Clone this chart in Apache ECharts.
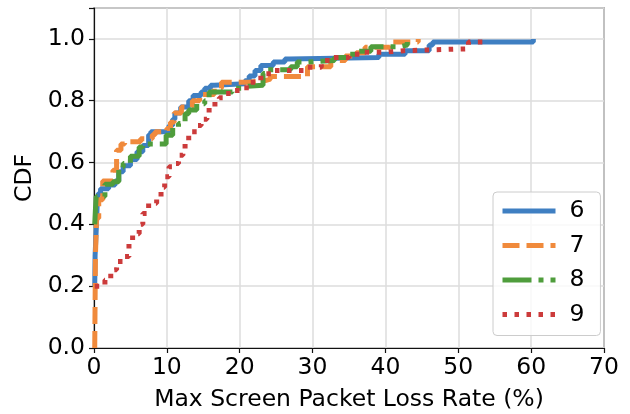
<!DOCTYPE html>
<html>
<head>
<meta charset="utf-8">
<script src="https://cdn.jsdelivr.net/npm/echarts@6/dist/echarts.min.js"></script>
<style>
  html, body { margin: 0; padding: 0; background: #fff; }
  #chart { width: 630px; height: 414px; }
</style>
</head>
<body>
<div id="chart"></div>
<script>
// Empirical CDFs of the max screen packet loss rate (%), one per group.
const seriesNames = ['6', '7', '8', '9'];

const x6 = [0.1, 0.15, 0.3, 0.45, 0.6, 0.9, 2.0, 2.9, 3.4, 4.0, 5.0, 5.9, 6.7, 7.5, 7.8, 10.3, 10.8, 11.1, 11.9, 13.0, 13.6, 14.7, 15.2, 16.0, 16.5, 20.7, 21.3, 22.1, 22.9, 24.6, 26.2, 26.8, 39.1, 42.7, 46.0, 46.5, 60.0, 60.3];
const y6 = [0.20, 0.30, 0.38, 0.47, 0.50, 0.515, 0.527, 0.54, 0.57, 0.59, 0.61, 0.635, 0.655, 0.69, 0.70, 0.72, 0.74, 0.76, 0.78, 0.80, 0.817, 0.828, 0.84, 0.85, 0.855, 0.865, 0.88, 0.898, 0.914, 0.925, 0.935, 0.94, 0.95, 0.962, 0.98, 0.99, 0.99, 1.0];

const x7 = [0.1, 0.15, 0.2, 0.35, 0.65, 1.2, 2.6, 3.1, 3.7, 4.2, 6.4, 8.0, 8.4, 10.0, 10.5, 11.0, 12.0, 13.5, 14.5, 16.5, 17.5, 21.3, 23.5, 24.2, 29.3, 32.5, 34.5, 36.0, 37.2, 40.6, 44.5];
const y7 = [0.0, 0.15, 0.30, 0.42, 0.48, 0.54, 0.575, 0.64, 0.66, 0.667, 0.677, 0.69, 0.70, 0.71, 0.73, 0.76, 0.78, 0.80, 0.82, 0.84, 0.86, 0.865, 0.87, 0.878, 0.91, 0.93, 0.945, 0.955, 0.973, 0.99, 1.0];

const x8 = [0.1, 0.2, 0.3, 1.5, 2.6, 3.4, 4.0, 5.0, 6.2, 6.7, 9.9, 10.8, 11.6, 12.5, 13.0, 14.1, 15.2, 15.8, 19.0, 20.2, 20.7, 23.2, 23.6, 27.0, 27.9, 29.0, 33.0, 35.0, 36.0, 38.0, 42.0, 43.0];
const y8 = [0.40, 0.45, 0.49, 0.53, 0.538, 0.585, 0.597, 0.62, 0.65, 0.66, 0.688, 0.715, 0.726, 0.758, 0.77, 0.79, 0.80, 0.828, 0.84, 0.846, 0.85, 0.888, 0.90, 0.91, 0.925, 0.93, 0.94, 0.95, 0.96, 0.975, 0.98, 0.99];

const x9 = [0.1, 1.5, 2.3, 3.1, 4.0, 4.8, 5.3, 6.2, 6.7, 7.5, 8.6, 9.2, 9.7, 10.3, 11.1, 11.6, 12.2, 12.5, 13.0, 14.1, 14.7, 15.5, 15.8, 16.6, 17.2, 18.0, 19.3, 20.2, 21.3, 22.9, 24.6, 29.0, 31.2, 32.8, 35.0, 36.6, 39.9, 42.5, 51.4, 54.3];
const y9 = [0.20, 0.22, 0.253, 0.28, 0.296, 0.34, 0.37, 0.40, 0.435, 0.468, 0.49, 0.52, 0.554, 0.586, 0.597, 0.624, 0.64, 0.672, 0.70, 0.72, 0.74, 0.758, 0.78, 0.80, 0.81, 0.823, 0.833, 0.842, 0.86, 0.887, 0.898, 0.908, 0.93, 0.94, 0.95, 0.957, 0.962, 0.968, 0.99, 0.99];

const xTicks = [0, 10, 20, 30, 40, 50, 60, 70];
const yTicks = [0.0, 0.2, 0.4, 0.6, 0.8, 1.0];

const xs = [x6, x7, x8, x9];
const ys = [y6, y7, y8, y9];
const colors = ['#3f7fc2', '#f08a3c', '#4f9d3c', '#cc3b3b'];
const dashes = ['solid', [17, 7], [29, 7, 5, 7], [4.5, 7.5]];

const FONT = 'DejaVu Sans';
const FS = 23.5;
const LW = 5;

const series = seriesNames.map((name, i) => ({
  name: name,
  type: 'line',
  step: 'end',
  symbol: 'none',
  showSymbol: false,
  data: xs[i].map((x, k) => [x, ys[i][k]]),
  lineStyle: { color: colors[i], width: LW, type: dashes[i], cap: 'butt' },
  itemStyle: { color: colors[i] },
  emphasis: { disabled: true },
  animation: false
}));

const chart = echarts.init(document.getElementById('chart'), null, { renderer: 'canvas' });
chart.setOption({
  animation: false,
  backgroundColor: '#fff',
  grid: {
    left: 94, right: 26, top: 8, bottom: 66,
    outerBoundsMode: 'none',
    containLabel: false,
    show: true, borderColor: '#111', borderWidth: 1.2, backgroundColor: 'transparent'
  },
  xAxis: {
    type: 'value',
    min: xTicks[0], max: xTicks[xTicks.length - 1], interval: 10,
    name: 'Max Screen Packet Loss Rate (%)',
    nameLocation: 'middle', nameGap: 40,
    nameTextStyle: { fontFamily: FONT, fontSize: FS, color: '#000' },
    axisLine: { show: true, onZero: false, lineStyle: { color: '#111', width: 1.2 } },
    axisTick: { show: true, length: 5, lineStyle: { color: '#111', width: 1.2 } },
    axisLabel: { fontFamily: FONT, fontSize: FS, color: '#000', margin: 8 },
    splitLine: { show: true, lineStyle: { color: '#dcdcdc', width: 1.5 } }
  },
  yAxis: {
    type: 'value',
    min: 0, max: 1.1, interval: 0.2,
    name: 'CDF',
    nameLocation: 'middle', nameGap: 55,
    nameTextStyle: { fontFamily: FONT, fontSize: FS, color: '#000' },
    axisLine: { show: true, onZero: false, lineStyle: { color: '#111', width: 1.2 } },
    axisTick: { show: true, length: 5, lineStyle: { color: '#111', width: 1.2 } },
    axisLabel: {
      fontFamily: FONT, fontSize: FS, color: '#000', margin: 9,
      formatter: v => (yTicks.some(t => Math.abs(t - v) < 1e-6) ? v.toFixed(1) : '')
    },
    splitLine: { show: true, lineStyle: { color: '#dcdcdc', width: 1.5 } }
  },
  legend: {
    data: seriesNames,
    orient: 'vertical',
    left: 493, top: 192,
    padding: [7, 16, 9, 7],
    itemWidth: 53, itemHeight: 24, itemGap: 10.5,
    backgroundColor: 'rgba(255,255,255,0.8)',
    borderColor: '#cccccc', borderWidth: 1, borderRadius: 4,
    itemStyle: { opacity: 0, color: 'rgba(0,0,0,0)', borderWidth: 0 },
    lineStyle: { width: LW },
    textStyle: { fontFamily: FONT, fontSize: FS, color: '#000', padding: [0, 0, 0, 9] },
    selectedMode: false
  },
  series: series
});
</script>
</body>
</html>
